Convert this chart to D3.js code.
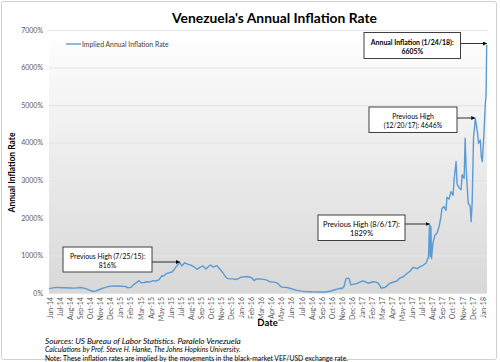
<!DOCTYPE html>
<html><head><meta charset="utf-8">
<script src="https://cdn.jsdelivr.net/npm/d3@7"></script>
<style>
html,body{margin:0;padding:0;background:#fff;}
svg{display:block;font-family:Lato,"Open Sans",sans-serif;}
</style></head>
<body>
<svg id="c" width="500" height="362"></svg>
<script>
// ---- data ----
const title = "Venezuela's Annual Inflation Rate";
const seriesName = "Implied Annual Inflation Rate";
const yTicks = [0,1000,2000,3000,4000,5000,6000,7000];
const xLabels = ["Jun-14","Jul-14","Aug-14","Sep-14","Oct-14","Nov-14","Dec-14","Jan-15","Feb-15","Mar-15","Apr-15","May-15","Jun-15","Jul-15","Aug-15","Sep-15","Oct-15","Nov-15","Dec-15","Jan-16","Feb-16","Mar-16","Apr-16","May-16","Jun-16","Jul-16","Aug-16","Sep-16","Oct-16","Nov-16","Dec-16","Jan-17","Feb-17","Mar-17","Apr-17","May-17","Jun-17","Jul-17","Aug-17","Sep-17","Oct-17","Nov-17","Dec-17","Jan-18"];
const dates = ["2014-07-01","2014-07-13","2014-07-25","2014-08-06","2014-08-18","2014-09-01","2014-09-16","2014-10-01","2014-10-13","2014-10-22","2014-10-31","2014-11-09","2014-11-18","2014-11-30","2014-12-09","2014-12-21","2014-12-29","2015-01-10","2015-01-19","2015-01-31","2015-02-12","2015-02-21","2015-03-02","2015-03-11","2015-03-20","2015-03-26","2015-04-01","2015-04-10","2015-04-19","2015-04-27","2015-05-06","2015-05-15","2015-05-24","2015-06-02","2015-06-08","2015-06-14","2015-06-23","2015-07-02","2015-07-08","2015-07-14","2015-07-20","2015-07-25","2015-07-31","2015-08-04","2015-08-08","2015-08-13","2015-08-19","2015-08-27","2015-09-05","2015-09-14","2015-09-23","2015-10-02","2015-10-11","2015-10-20","2015-10-26","2015-11-01","2015-11-07","2015-11-13","2015-11-19","2015-11-25","2015-12-01","2015-12-07","2015-12-13","2015-12-21","2015-12-30","2016-01-08","2016-01-17","2016-01-23","2016-02-01","2016-02-10","2016-02-19","2016-02-25","2016-03-02","2016-03-08","2016-03-14","2016-03-26","2016-04-07","2016-04-18","2016-04-30","2016-05-09","2016-05-15","2016-05-21","2016-05-27","2016-06-05","2016-06-17","2016-06-26","2016-07-08","2016-07-20","2016-08-01","2016-08-15","2016-08-30","2016-09-14","2016-09-29","2016-10-14","2016-10-26","2016-11-04","2016-11-13","2016-11-19","2016-11-25","2016-11-28","2016-12-01","2016-12-07","2016-12-10","2016-12-15","2016-12-21","2017-01-02","2017-01-11","2017-01-20","2017-01-29","2017-02-04","2017-02-13","2017-02-19","2017-02-28","2017-03-06","2017-03-12","2017-03-15","2017-03-21","2017-03-27","2017-04-05","2017-04-10","2017-04-19","2017-05-01","2017-05-10","2017-05-19","2017-05-25","2017-05-31","2017-06-09","2017-06-18","2017-06-24","2017-06-30","2017-07-09","2017-07-15","2017-07-21","2017-07-27","2017-07-31","2017-08-03","2017-08-06","2017-08-08","2017-08-10","2017-08-12","2017-08-16","2017-08-22","2017-08-28","2017-09-03","2017-09-09","2017-09-12","2017-09-18","2017-09-24","2017-09-27","2017-10-03","2017-10-09","2017-10-15","2017-10-18","2017-10-24","2017-10-27","2017-11-02","2017-11-08","2017-11-11","2017-11-17","2017-11-20","2017-11-23","2017-11-29","2017-12-05","2017-12-08","2017-12-11","2017-12-15","2017-12-18","2017-12-20","2017-12-23","2017-12-27","2017-12-30","2018-01-04","2018-01-07","2018-01-10","2018-01-15","2018-01-19","2018-01-21","2018-01-22","2018-01-23","2018-01-24"];
const values = [115,135,150,140,140,135,130,145,130,105,70,40,55,100,130,165,175,185,185,180,175,140,150,230,290,330,270,280,300,290,330,320,350,460,450,510,540,560,620,700,760,816,720,760,800,790,760,740,700,630,680,720,640,720,740,690,710,730,660,600,530,450,390,375,375,360,390,420,430,440,420,400,330,370,375,370,350,300,290,270,220,170,150,150,125,100,70,50,40,35,30,25,25,45,80,105,125,120,180,300,390,395,380,220,230,255,290,325,290,260,280,300,290,260,190,130,140,150,220,260,285,320,400,430,470,520,580,680,670,650,700,720,760,800,900,950,1829,970,1780,920,1320,1540,1590,1750,2030,2250,2300,2200,2550,2500,2700,2600,3000,3500,2900,2800,2750,3150,3050,4118,3300,2400,2300,1900,2450,4160,4400,4646,4500,4250,3985,4072,3628,3500,4250,5050,5225,5714,6556,6605];
const notes = [
  {date:"2015-07-25", value:816, lines:["Previous High (7/25/15):","816%"], bold:false},
  {date:"2017-08-06", value:1829, lines:["Previous High (8/6/17):","1829%"], bold:false},
  {date:"2017-12-20", value:4646, lines:["Previous High","(12/20/17): 4646%"], bold:false},
  {date:"2018-01-24", value:6605, lines:["Annual Inflation (1/24/18):","6605%"], bold:true}
];
const sources = ["Sources: US Bureau of Labor Statistics. Paralelo Venezuela",
                 "Calculations by Prof. Steve H. Hanke, The Johns Hopkins University.",
                 "Note: These inflation rates are implied by the movements in the black-market VEF/USD exchange rate."];

// ---- layout ----
const svg = d3.select("#c");
const P = {l:49, r:487, t:30, b:293};
const parse = d3.timeParse("%Y-%m-%d");
const data = dates.map((d,i)=>({date:parse(d), value:values[i]}));
const x = d3.scaleTime().domain([parse("2014-07-01"), parse("2018-01-24")]).range([P.l, P.r]);
const y = d3.scaleLinear().domain([0,7000]).range([P.b, P.t]);
const xl = d3.scalePoint().domain(xLabels).range([50, 482.7]);
const FONT = "Lato, 'Open Sans', sans-serif";

function fit(sel, w){ // scale font-size so the text has width w
  const n = sel.node(); const fs = parseFloat(sel.attr("font-size"));
  const cw = n.getComputedTextLength(); if (cw>0) sel.attr("font-size", fs*w/cw);
  return sel;
}

// outer frame
svg.append("rect").attr("x",1.5).attr("y",1.5).attr("width",495).attr("height",358)
  .attr("fill","#fff").attr("stroke","#d0d0d0").attr("stroke-width",1).attr("rx",2);

// plot bg gradient
const defs = svg.append("defs");
const g = defs.append("linearGradient").attr("id","bg").attr("x1",0).attr("y1",0).attr("x2",0).attr("y2",1);
g.append("stop").attr("offset","0%").attr("stop-color","#ffffff");
g.append("stop").attr("offset","100%").attr("stop-color","#d8d8d8");
svg.append("rect").attr("x",P.l).attr("y",P.t).attr("width",P.r-P.l).attr("height",P.b-P.t).attr("fill","url(#bg)");

// gridlines + y axis
const ya = svg.append("g").attr("transform",`translate(${P.l},0)`)
  .call(d3.axisLeft(y).tickValues(yTicks).tickFormat(d=>d+"%").tickSize(-(P.r-P.l)).tickPadding(6));
ya.select(".domain").remove();
ya.selectAll(".tick line").attr("stroke","#e4e4e4").attr("stroke-width",1);
ya.selectAll(".tick text").attr("font-family",FONT).attr("font-size",7).attr("fill","#595959");

// x axis labels
const xa = svg.append("g").attr("transform",`translate(0,${P.b})`)
  .call(d3.axisBottom(xl).tickSize(0).tickPadding(0));
xa.select(".domain").remove();
xa.selectAll(".tick text").attr("font-family",FONT).attr("font-size",7).attr("fill","#595959")
  .attr("text-anchor","end").attr("dy","0.35em").attr("transform","translate(0,4) rotate(-90)");

// line
svg.append("path").datum(data).attr("fill","none").attr("stroke","#5b9bd5").attr("stroke-width",1.4)
  .attr("stroke-linejoin","round")
  .attr("d", d3.line().x(d=>x(d.date)).y(d=>y(d.value)));

// title
fit(svg.append("text").attr("x",274.5).attr("y",23).attr("text-anchor","middle")
  .attr("font-family",FONT).attr("font-weight",700).attr("font-size",15).attr("fill","#000").text(title), 205);

// legend
svg.append("line").attr("x1",66).attr("x2",81).attr("y1",44).attr("y2",44).attr("stroke","#5b9bd5").attr("stroke-width",1.4);
fit(svg.append("text").attr("x",82).attr("y",46.5).attr("font-family",FONT).attr("font-size",7).attr("fill","#404040").text(seriesName), 86.6);

// axis titles
svg.append("text").attr("transform","translate(15,172.5) rotate(-90)").attr("text-anchor","middle")
  .attr("font-family",FONT).attr("font-weight",700).attr("font-size",8.5).attr("fill","#000").text("Annual Inflation Rate");
svg.append("text").attr("x",267.5).attr("y",326).attr("text-anchor","middle")
  .attr("font-family",FONT).attr("font-weight",700).attr("font-size",9.5).attr("fill","#000").text("Date");

// sources
const sy = [343.5, 352, 360.5];
const sw = [196, 196, 304];
sources.forEach((s,i)=>{
  fit(svg.append("text").attr("x",45).attr("y",sy[i]).attr("font-family",FONT).attr("font-size",7)
    .attr("font-style", i<2?"italic":"normal").attr("fill","#000").text(s), sw[i]);
});

// annotations
const boxes = [
  {x0:63, x1:152, y0:247, y1:272, ay:262, w:75},
  {x0:318, x1:405, y0:215, y1:240.5, ay:224, w:77},
  {x0:369, x1:457, y0:107, y1:132.5, ay:118, w:41.7},
  {x0:364, x1:460.5, y0:32.5, y1:58.5, ay:43.5, w:83}
];
defs.append("marker").attr("id","ah").attr("viewBox","0 0 10 10").attr("refX",10).attr("refY",5)
  .attr("markerWidth",5).attr("markerHeight",5).attr("orient","auto")
  .append("path").attr("d","M0,0L10,5L0,10z").attr("fill","#000");
notes.forEach((n,i)=>{
  const b = boxes[i];
  const tx = x(parse(n.date));
  svg.append("line").attr("x1",b.x1).attr("x2",tx).attr("y1",b.ay).attr("y2",b.ay)
    .attr("stroke","#000").attr("stroke-width",0.8).attr("marker-end","url(#ah)");
  svg.append("rect").attr("x",b.x0).attr("y",b.y0).attr("width",b.x1-b.x0).attr("height",b.y1-b.y0)
    .attr("fill","#fff").attr("stroke","#404040").attr("stroke-width",1);
  const cx = (b.x0+b.x1)/2, cy=(b.y0+b.y1)/2;
  const t1 = svg.append("text").attr("x",cx).attr("y",cy-1).attr("text-anchor","middle")
    .attr("font-family",FONT).attr("font-size",7).attr("font-weight",n.bold?700:400).attr("fill","#000").text(n.lines[0]);
  fit(t1, b.w);
  svg.append("text").attr("x",cx).attr("y",cy+8).attr("text-anchor","middle")
    .attr("font-family",FONT).attr("font-size",t1.attr("font-size")).attr("font-weight",n.bold?700:400).attr("fill","#000").text(n.lines[1]);
});
</script>
</body></html>
